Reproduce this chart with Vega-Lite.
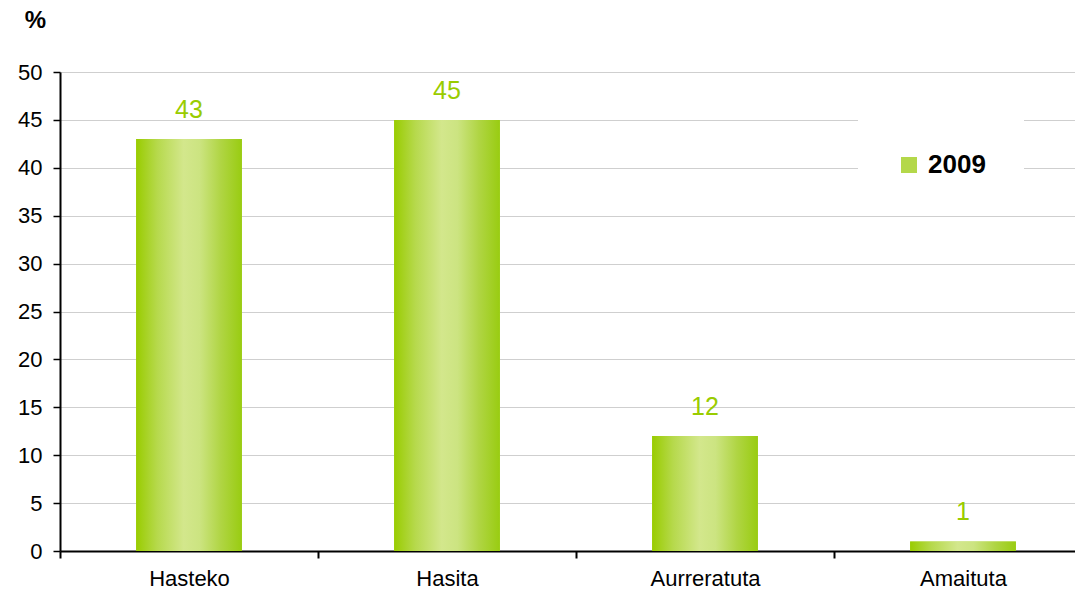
{
  "$schema": "https://vega.github.io/schema/vega-lite/v6.json",
  "width": 1032,
  "height": 479,
  "autosize": {"type": "none"},
  "padding": {"left": 60, "top": 72, "right": -17, "bottom": 44},
  "background": "white",
  "config": {
    "font": "Liberation Sans",
    "view": {"stroke": null}
  },
  "data": {
    "values": [
      {"cat": "Hasteko", "value": 43, "serie": "2009"},
      {"cat": "Hasita", "value": 45, "serie": "2009"},
      {"cat": "Aurreratuta", "value": 12, "serie": "2009"},
      {"cat": "Amaituta", "value": 1, "serie": "2009"}
    ]
  },
  "encoding": {
    "x": {
      "field": "cat",
      "type": "nominal",
      "sort": null,
      "scale": {"paddingInner": 0, "paddingOuter": 0},
      "axis": {
        "title": null,
        "labelAngle": 0,
        "labelFontSize": 22,
        "labelColor": "#000000",
        "labelPadding": 10,
        "tickBand": "extent",
        "tickSize": 7,
        "tickColor": "#000000",
        "tickWidth": 2,
        "domainColor": "#000000",
        "domainWidth": 2,
        "grid": false
      }
    },
    "y": {
      "field": "value",
      "type": "quantitative",
      "scale": {"domain": [0, 50], "nice": false},
      "axis": {
        "values": [0, 5, 10, 15, 20, 25, 30, 35, 40, 45, 50],
        "title": "%",
        "titleAngle": 0,
        "titleFontSize": 24,
        "titleFontWeight": "bold",
        "titleX": -25,
        "titleY": -52,
        "titleAlign": "center",
        "titleBaseline": "middle",
        "titleColor": "#000000",
        "labelFontSize": 22,
        "labelColor": "#000000",
        "labelPadding": 11,
        "tickSize": 7,
        "tickColor": "#000000",
        "tickWidth": 1.5,
        "domainColor": "#000000",
        "domainWidth": 2,
        "grid": true,
        "gridColor": "#CFCFCF",
        "gridWidth": 1.2
      }
    }
  },
  "layer": [
    {
      "mark": {"type": "bar", "strokeWidth": 0, "width": {"band": 0.41}},
      "encoding": {
        "color": {
          "field": "serie",
          "type": "nominal",
          "scale": {"range": ["#B4D84A"]},
          "legend": {
            "title": null,
            "orient": "none",
            "legendX": 798,
            "legendY": 42,
            "padding": 38,
            "fillColor": "white",
            "symbolType": "square",
            "symbolSize": 256,
            "symbolStrokeWidth": 0,
            "labelFontSize": 26,
            "labelFontWeight": "bold",
            "labelColor": "#000000",
            "labelOffset": 6
          }
        }
      }
    },
    {
      "mark": {
        "type": "bar",
        "strokeWidth": 0,
        "width": {"band": 0.41},
        "color": {
          "gradient": "linear",
          "x1": 0, "y1": 0, "x2": 1, "y2": 0,
          "stops": [
            {"offset": 0, "color": "#99CC00"},
            {"offset": 0.2, "color": "#B6D94C"},
            {"offset": 0.45, "color": "#D3E78C"},
            {"offset": 0.6, "color": "#CCE481"},
            {"offset": 0.8, "color": "#B0D544"},
            {"offset": 1, "color": "#99CC11"}
          ]
        }
      }
    },
    {
      "mark": {"type": "text", "color": "#99CC00", "fontSize": 25, "baseline": "alphabetic", "dy": -21},
      "encoding": {
        "text": {"field": "value", "type": "quantitative"}
      }
    }
  ]
}
